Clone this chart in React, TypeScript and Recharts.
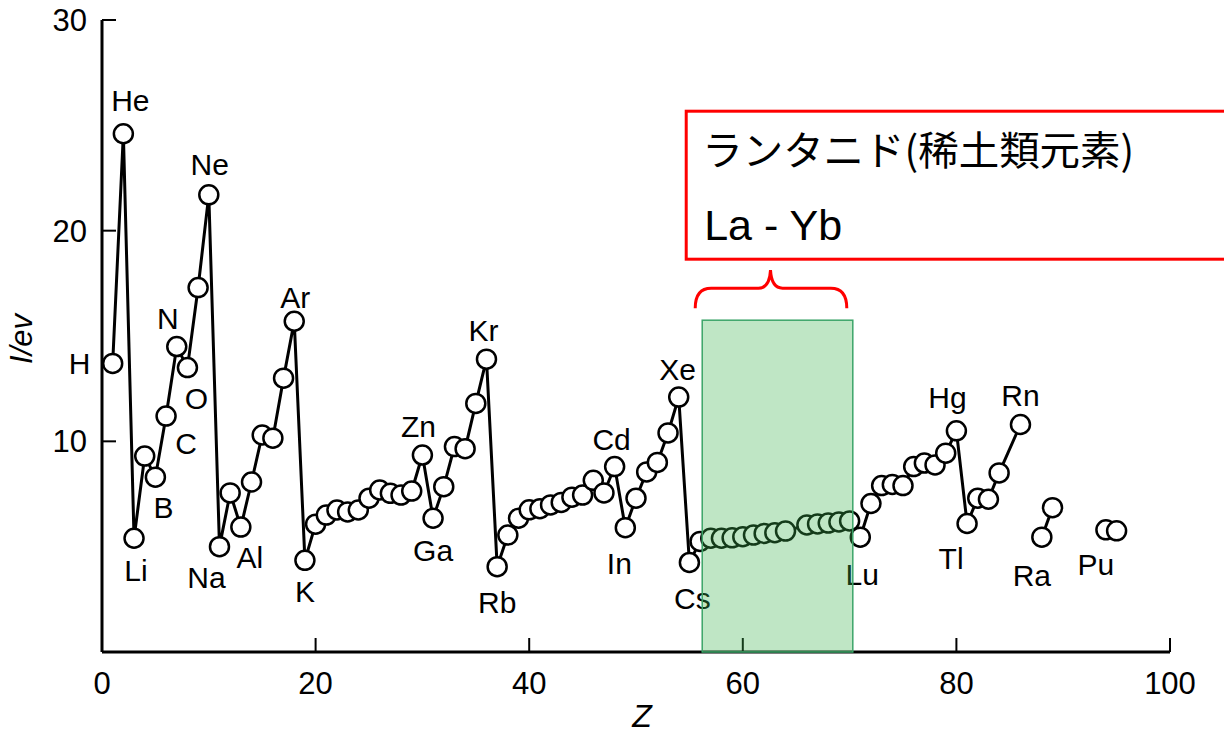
import React from 'react';
import { LineChart, Line, XAxis, YAxis, ReferenceArea, LabelList, Label } from 'recharts';

// ---- data ----
const mainSymbols = ['H','He','Li','Be','B','C','N','O','F','Ne','Na','Mg','Al','Si','P','S','Cl','Ar','K','Ca','Sc','Ti','V','Cr','Mn','Fe','Co','Ni','Cu','Zn','Ga','Ge','As','Se','Br','Kr','Rb','Sr','Y','Zr','Nb','Mo','Tc','Ru','Rh','Pd','Ag','Cd','In','Sn','Sb','Te','I','Xe','Cs','Ba','La','Ce','Pr','Nd','Pm','Sm','Eu','Gd','Dy','Ho','Er','Tm','Yb','Lu','Hf','Ta','W','Re','Os','Ir','Pt','Au','Hg','Tl','Pb','Bi','Po','Rn'];
const mainZ = [1,2,3,4,5,6,7,8,9,10,11,12,13,14,15,16,17,18,19,20,21,22,23,24,25,26,27,28,29,30,31,32,33,34,35,36,37,38,39,40,41,42,43,44,45,46,47,48,49,50,51,52,53,54,55,56,57,58,59,60,61,62,63,64,66,67,68,69,70,71,72,73,74,75,76,77,78,79,80,81,82,83,84,86];
const mainIE = [
  13.7, 24.6, 5.4, 9.3, 8.3, 11.2, 14.5, 13.5, 17.3, 21.7,
  5.0, 7.55, 5.93, 8.07, 10.3, 10.15, 13.0, 15.7, 4.35, 6.07,
  6.5, 6.74, 6.65, 6.74, 7.3, 7.69, 7.53, 7.45, 7.64, 9.35,
  6.35, 7.85, 9.75, 9.65, 11.8, 13.9, 4.05, 5.55, 6.35, 6.75,
  6.8, 6.98, 7.1, 7.35, 7.45, 8.15, 7.55, 8.8, 5.9, 7.3,
  8.55, 9.0, 10.4, 12.1, 4.25, 5.25, 5.4, 5.4, 5.42, 5.47,
  5.55, 5.63, 5.66, 5.74,
  6.03, 6.08, 6.12, 6.17, 6.22,
  5.45, 7.05, 7.9, 7.95, 7.9, 8.8, 8.97, 8.88, 9.44, 10.5,
  6.1, 7.3, 7.25, 8.5,
  10.8,
];
const raSymbols = ['Ra', 'Ac'];
const raZ = [88, 89];
const raIE = [5.45, 6.85];
const puSymbols = ['Pu', 'Am'];
const puZ = [94, 95];
const puIE = [5.8, 5.75];

const xTicks = [0, 20, 40, 60, 80, 100];
const yTicks = [10, 20, 30];
const lanthanideRange = [56.2, 70.3];
const lanthanideTop = 15.75;
const boxTitle = 'ランタニド(稀土類元素)';
const boxSub = 'La - Yb';

// label placement (layout only): offset of label centre from point centre
const labelOffsets: Record<string, [number, number]> = {
  H: [-33, 0], He: [7, -33], Li: [2, 32], B: [8, 30], C: [20, 27], N: [-9, -28], O: [9, 31],
  Ne: [1, -30], Na: [-13, 31], Al: [9, 30], Ar: [1, -24], K: [0, 31], Zn: [-4, -29], Ga: [0, 32],
  Kr: [-3, -29], Rb: [0, 36], Cd: [-3, -27], In: [-6, 36], Xe: [-1, -28], Cs: [3, 36], Lu: [2, 37],
  Hg: [-9, -33], Tl: [-16, 35], Rn: [0, -29], Ra: [-10, 38], Pu: [-10, 35],
};

const FONT = '"Liberation Sans", Arial, Helvetica, sans-serif';
const CJK = '"Noto Sans CJK JP", "Noto Sans CJK SC", sans-serif';

const build = (zs: number[], ies: number[], syms: string[]) =>
  zs.map((z, i) => ({ z, ie: ies[i], sym: syms[i] }));

const renderElemLabel = (props: any) => {
  const value = props.value;
  const off = labelOffsets[value];
  if (!off) return null;
  const x = props.x ?? props.viewBox?.x;
  const y = props.y ?? props.viewBox?.y;
  if (x == null || y == null) return null;
  return (
    <text x={x + off[0]} y={y + off[1]} textAnchor="middle" dominantBaseline="central"
      fontSize={30} fontFamily={FONT} fill="#000">{value}</text>
  );
};

const renderArea = (p: any) => {
  const { x, y, width, height } = p;
  const x1 = x - 7;
  const x2 = x + width - 6;
  const cx = x + width / 2 - 7;
  const yEnd = y - 12;
  const yBar = y - 32;
  const yTip = y - 50;
  const brace = `M ${x1} ${yEnd} Q ${x1} ${yBar} ${x1 + 16} ${yBar} L ${cx - 12} ${yBar} Q ${cx - 1} ${yBar} ${cx} ${yTip} Q ${cx + 1} ${yBar} ${cx + 12} ${yBar} L ${x2 - 16} ${yBar} Q ${x2} ${yBar} ${x2} ${yEnd}`;
  return (
    <g>
      <rect x={x} y={y} width={width} height={height} fill="rgb(60,180,80)" fillOpacity={0.33}
        stroke="rgb(60,165,105)" strokeWidth={1.5} />
      <path d={brace} fill="none" stroke="#ff0000" strokeWidth={3} />
      <rect x={x - 16} y={y - 209} width={700} height={148} fill="#fff" stroke="#ff0000" strokeWidth={3} />
      <text x={x} y={y - 155} fontSize={40} fontFamily={CJK} fill="#000" textLength={432} lengthAdjust="spacingAndGlyphs">{boxTitle}</text>
      <text x={x + 2} y={y - 80} fontSize={43} fontFamily={FONT} fill="#000">{boxSub}</text>
    </g>
  );
};

const renderYLabel = (p: any) => {
  const vb = p.viewBox || {};
  const cx = (vb.x ?? 42) - 21;
  const cy = (vb.y ?? 20) + (vb.height ?? 632) / 2 + 3;
  return (
    <text x={cx} y={cy} transform={`rotate(-90 ${cx} ${cy})`} textAnchor="middle" dominantBaseline="central"
      fontSize={31} fontStyle="italic" fontFamily={FONT} fill="#000">I/ev</text>
  );
};

const renderXLabel = (p: any) => {
  const vb = p.viewBox || {};
  const cx = (vb.x ?? 102) + (vb.width ?? 1068) / 2 + 6;
  const cy = (vb.y ?? 652) + 64;
  return (
    <text x={cx} y={cy} textAnchor="middle" dominantBaseline="central"
      fontSize={32} fontStyle="italic" fontFamily={FONT} fill="#000">Z</text>
  );
};

export default function App() {
  const mainData = build(mainZ, mainIE, mainSymbols);
  const raData = build(raZ, raIE, raSymbols);
  const puData = build(puZ, puIE, puSymbols);
  const dot = { r: 9.5, fill: '#fff', stroke: '#000', strokeWidth: 2.5 };
  const tickStyle = { fill: '#000', fontSize: 31, fontFamily: FONT };
  return (
    <div style={{ position: 'absolute', left: 0, top: 0, width: 1224, height: 733, background: '#fff' }}>
      <LineChart width={1224} height={733} margin={{ top: 20, right: 54, bottom: 21, left: 42 }}>
        <XAxis type="number" dataKey="z" domain={[0, 100]} ticks={xTicks} height={60}
          axisLine={{ stroke: '#000', strokeWidth: 3 }} tickLine={{ stroke: '#000', strokeWidth: 2 }}
          tickSize={-14} tickMargin={34} tick={tickStyle} allowDataOverflow>
          <Label content={renderXLabel} />
        </XAxis>
        <YAxis type="number" domain={[0, 30]} ticks={yTicks} width={60}
          axisLine={{ stroke: '#000', strokeWidth: 3 }} tickLine={{ stroke: '#000', strokeWidth: 2 }}
          tickSize={-14} tickMargin={29} tick={tickStyle} allowDataOverflow>
          <Label content={renderYLabel} />
        </YAxis>
        <Line data={mainData} dataKey="ie" type="linear" stroke="#000" strokeWidth={3} dot={dot}
          activeDot={false} isAnimationActive={false}>
          <LabelList dataKey="sym" content={renderElemLabel} />
        </Line>
        <Line data={raData} dataKey="ie" type="linear" stroke="#000" strokeWidth={3} dot={dot}
          activeDot={false} isAnimationActive={false}>
          <LabelList dataKey="sym" content={renderElemLabel} />
        </Line>
        <Line data={puData} dataKey="ie" type="linear" stroke="#000" strokeWidth={3} dot={dot}
          activeDot={false} isAnimationActive={false}>
          <LabelList dataKey="sym" content={renderElemLabel} />
        </Line>
        <ReferenceArea x1={lanthanideRange[0]} x2={lanthanideRange[1]} y1={0} y2={lanthanideTop}
          shape={renderArea} zIndex={2000} ifOverflow="visible" />
      </LineChart>
    </div>
  );
}
